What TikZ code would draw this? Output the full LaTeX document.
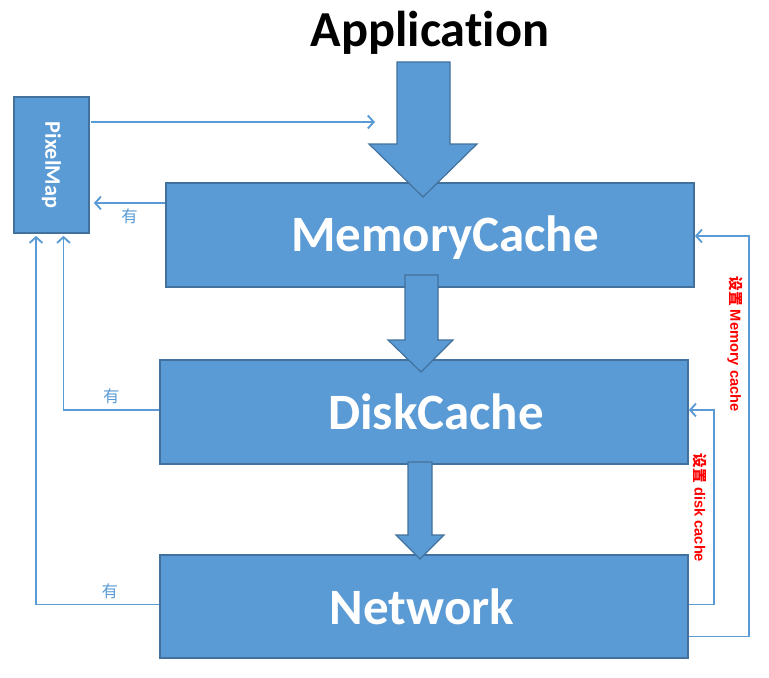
\documentclass[tikz,border=0pt]{standalone}
\usepackage{fontspec}
\setmainfont{Carlito}[Ligatures=NoCommon]
\newfontfamily\cjk{Noto Sans CJK SC}
\newfontfamily\heavyfont{Liberation Sans}
\usetikzlibrary{arrows.meta, calc}

\definecolor{boxblue}{HTML}{5B9BD5}
\definecolor{boxedge}{HTML}{41719C}
\definecolor{setred}{HTML}{FF0000}

\tikzset{
  cachebox/.style={draw=boxedge, fill=boxblue, line width=1.4pt, inner sep=0pt,
    minimum width=15.84cm, minimum height=3.12cm},
  boxtext/.style={text=white, font=\bfseries\fontsize{43.5}{43.5}\selectfont},
  bigarrow/.style={draw=boxedge, fill=boxblue, line width=1pt, line join=miter},
  link/.style={draw=boxblue, line width=1.6pt, -{Straight Barb[length=5pt,width=11pt]}},
  youlbl/.style={text=boxblue, font=\cjk\fontsize{14}{14}\selectfont},
  setlbl/.style={text=setred, rotate=-90, font=\heavyfont\bfseries\fontsize{12.5}{12.5}\selectfont}
}

\begin{document}
\begin{tikzpicture}[x=0.03cm, y=-0.03cm]
  \useasboundingbox (0,0) rectangle (769,677);

  % title
  \node[font=\bfseries\fontsize{43}{43}\selectfont] (app) at (430,33) {Application};

  % boxes
  \node[cachebox] (mem) at (430,235) {};
  \node[cachebox] (disk) at (424,412) {};
  \node[cachebox, minimum height=3.09cm] (net) at (424,606.5) {};
  \node[cachebox, minimum width=2.25cm, minimum height=4.08cm] (pix) at (51.5,165) {};
  \node[boxtext] at ($(mem.center)+(15,3)$) {MemoryCache};
  \node[boxtext] at ($(disk.center)+(12,0)$) {DiskCache};
  \node[boxtext] at ($(net.center)+(-2,0)$) {Network};
  \node[text=white, rotate=-90, font=\bfseries\fontsize{19}{19}\selectfont] at (pix.center) {PixelMap};

  % big arrows
  \draw[bigarrow] (397,62) -- (450,62) -- (450,144) -- (477,144) -- (423,197)
    -- (369,144) -- (397,144) -- cycle;
  \draw[bigarrow] (405,275) -- (438,275) -- (438,340) -- (453,340) -- (421,372)
    -- (388,340) -- (405,340) -- cycle;
  \draw[bigarrow] (408,462) -- (432,462) -- (432,535) -- (444,535) -- (420,559)
    -- (396,535) -- (408,535) -- cycle;

  % hits go back to PixelMap
  \coordinate (apphead) at (375,122);
  \draw[link] ($(pix.east)+(1,-43)$) -- (apphead);
  \draw[link] ($(mem.west)+(0,-32)$) -- ($(pix.east)+(4,38)$)
    node[youlbl, pos=0.5, below=1pt] {有};
  \draw[link] ($(disk.west)+(0,-2)$) -| ($(pix.south)+(12,2)$)
    node[youlbl, pos=0.25, above=1pt] {有};
  \draw[link] ($(net.west)+(0,-2)$) -| ($(pix.south)+(-15.5,2)$)
    node[youlbl, pos=0.2, above=1pt] {有};

  % store into caches
  \coordinate (memset) at (749,236);
  \coordinate (diskset) at (714,410);
  \draw[link] ($(net.east)+(0,30)$) -| (memset) -- ($(mem.east)+(0,1)$);
  \draw[link] ($(net.east)+(0,-2)$) -| (diskset) -- ($(disk.east)+(0,-2)$);
  \node[setlbl] at (735,344) {{\cjk\bfseries 设置} Memory cache};
  \node[setlbl] at (700,508) {{\cjk\bfseries 设置} disk cache};
\end{tikzpicture}
\end{document}
